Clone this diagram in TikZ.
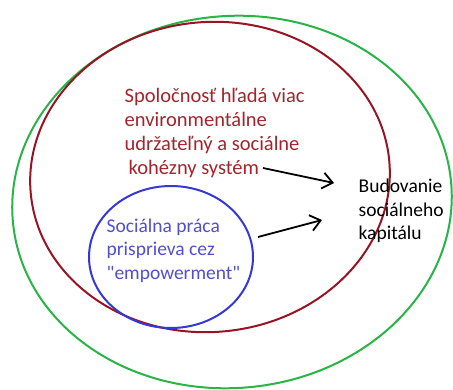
\documentclass[tikz,border=0pt]{standalone}
\usepackage{fontspec}
\setmainfont{Carlito}
\usepackage{xcolor}
\usepackage{tikz}
\usetikzlibrary{arrows.meta, positioning}

\definecolor{kruhzel}{RGB}{40,180,70}
\definecolor{kruhcerv}{RGB}{150,20,35}
\definecolor{textcerv}{RGB}{165,35,45}
\definecolor{kruhmod}{RGB}{55,55,215}
\definecolor{textmod}{RGB}{80,80,205}

\begin{document}
\begin{tikzpicture}[x=1pt, y=-1pt,
  txt/.style={inner sep=0pt, align=left, anchor=north west,
    font=\fontsize{19.5}{23.5}\selectfont},
  ring/.style={line width=2pt},
  arrow/.style={-{Straight Barb[length=10pt, width=16pt]}, line width=1.8pt}
]
  \useasboundingbox (0,0) rectangle (453,390);

  % kruhy
  \draw[ring, kruhzel] (232,202) ellipse [x radius=220, y radius=186, rotate=5];
  \draw[ring, kruhcerv] (210,177) ellipse [x radius=180, y radius=155, rotate=5];
  \draw[ring, kruhmod] (171,257) ellipse [x radius=82, y radius=71];

  % texty
  \node[txt, text=textcerv, font=\fontsize{20.5}{23.7}\selectfont] (soc) at (124.5,88.5)
    {Spoločnosť hľadá viac\\environmentálne\\udržateľný a sociálne\\\hspace{4pt}kohézny systém};
  \node[txt, text=textmod] (emp) at (106.5,218.5)
    {Sociálna práca\\prisprieva cez\\\textquotedbl empowerment\textquotedbl};
  \node[txt] (kap) at (358.5,179) {Budovanie\\sociálneho\\kapitálu};

  \coordinate (sys) at (263,168);
  \coordinate (empout) at (258,237);
  \coordinate (kapin1) at (334,183);
  \coordinate (kapin2) at (322,220);

  \draw[arrow] (sys) -- (kapin1);
  \draw[arrow] (empout) -- (kapin2);
\end{tikzpicture}
\end{document}
